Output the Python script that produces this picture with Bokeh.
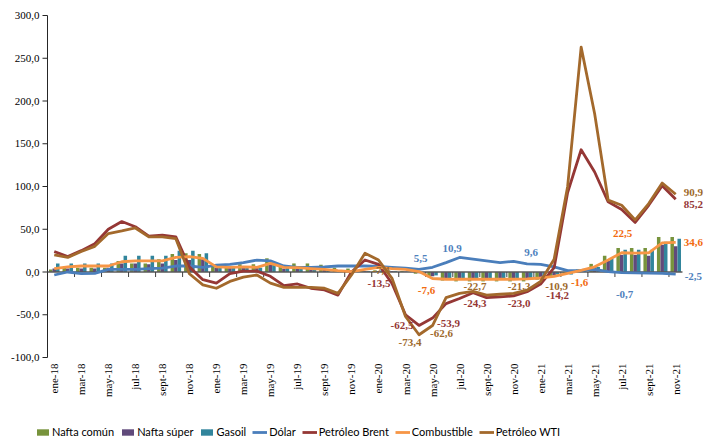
import numpy as np
from bokeh.plotting import figure
from bokeh.models import Range1d, Legend, LegendItem, ColumnDataSource, LabelSet
from bokeh.embed import file_html
from bokeh.resources import INLINE

meses = ["ene", "feb", "mar", "abr", "may", "jun", "jul", "ago", "sept", "oct", "nov", "dic"]
anios = ["18", "19", "20", "21"]
months = [f"{m}-{a}" for a in anios for m in meses][:47]

nafta_comun = [3, 5, 5, 5, 5, 13, 10, 10, 15, 21, 22, 21,
               7, 7, 9, 9, 16, 9, 10, 10, 8.5, 5, 4, 3,
               2, 2, 1, -2, -6, -10, -11, -11, -11, -11, -11, -11,
               -9, -5, -1, 3, 9.5, 19, 28, 28, 28, 41, 41]
nafta_super = [4, 4, 4, 4, 5, 10, 10, 9, 10, 14, 14, 15,
               5, 5, 5, 5, 9, 4, 4, 4, 3, 2, 2, 1,
               1, 1, 0.5, -1.5, -5, -8, -9, -9, -9, -9, -9, -9,
               -8, -4, -1, 2, 7, 13, 20, 20, 19, 32, 30]
gasoil = [10, 10, 10, 10, 10, 19, 19, 19, 19, 25, 25, 22,
          5, 5, 5, 5, 11, 5, 4, 4, 3, 2, 2, 1,
          2, 1, 0.5, -2, -4, -8, -9, -9, -9, -9, -9, -8,
          -6, -3, -3, 1, 6, 16, 26, 26, 26, 35.5, 39]
dolar = [-3.5, 0, -2, -1.5, 3, 3, 3, 4, 4.5, 7, 7, 5.5,
         8, 9, 11, 14, 13, 7, 5.5, 5.5, 6, 7, 7, 7,
         6.5, 5.5, 4.5, 3, 5.5, 10.9, 17, 15, 13, 11, 12.5, 9.6,
         9, 6, 1.5, 2, 3, 0.4, -0.7, -1, -1.2, -1.6, -2.5]
brent = [24, 18, 25, 33, 50, 59, 53, 42, 43, 41, 6, -9,
         -13, -2, 1, 1, -5, -16, -14, -19, -21, -27, 0, 14,
         9, -13.5, -50, -62.5, -53.9, -37, -31, -24.3, -30, -29, -28, -23.0,
         -14.2, 5, 93, 143, 117, 82, 73, 58, 78, 101, 85.2]
combustible = [4, 6, 7, 7, 7, 12, 13, 13, 13, 17, 18, 16,
               6, 5.5, 6, 5.5, 10, 5.5, 5, 4, 3, 1.5, 0.5, 3,
               5.5, 4, 3, 0.5, -7.6, -8.5, -8.5, -8.5, -8.5, -8.5, -8.5, -8,
               -7, -5, -1.6, 2, 6, 14, 22.5, 22, 22.5, 34, 34.6]
wti = [20, 17, 24, 30, 45, 48, 51.5, 41, 41, 39, -2, -15,
       -19, -11, -6, -3.5, -13, -18, -18, -18, -19, -25, -3.5, 22,
       14, -7.4, -52, -73.4, -62.6, -30, -25, -22.7, -27, -26, -25, -21.3,
       -10.9, 15, 100, 263, 185, 84, 78, 61, 80, 104, 90.9]

y_ticks = [-100, -50, 0, 50, 100, 150, 200, 250, 300]

# months whose value is written next to the line
label_months = {
    "Dólar": [28, 29, 35, 42, 46],
    "Petróleo Brent": [25, 27, 28, 31, 35, 36, 46],
    "Combustible": [28, 38, 42, 46],
    "Petróleo WTI": [25, 27, 28, 31, 35, 36, 46],
}
# pixel offsets of those labels (dx right, dy down)
label_offsets = {
    "Dólar": [(-12, -9), (6, -14), (4, -11), (3, 22), (9, 2)],
    "Petróleo Brent": [(-13, 0), (-17, 0), (16, 5), (2, 11), (-8, 12), (17, 11), (8, 5)],
    "Combustible": [(-6, 12), (12, 9), (1, -19), (8, 0)],
    "Petróleo WTI": [(-11, -8), (-9, 8), (9, 8), (2, -5), (-8, -4), (16, 5), (8, -2)],
}

n = len(months)
idx = np.arange(n)
FONT = "Lato"

def fmt(v):
    return f"{v:.1f}".replace(".", ",")

# geometry of the plotting area inside the page (pixels)
W, H = 708, 440
AX_LEFT, AX_TOP, AX_BOTTOM = 47, 15, 357
px_x = 13.51
px_y = (AX_BOTTOM - AX_TOP) / (y_ticks[-1] - y_ticks[0])
x0 = -0.5 - AX_LEFT / px_x
x1 = -0.5 + (W - AX_LEFT) / px_x
y1 = y_ticks[-1] + AX_TOP / px_y
y0 = y_ticks[0] - (H - AX_BOTTOM) / px_y

p = figure(width=W, height=H, x_range=Range1d(x0, x1), y_range=Range1d(y0, y1),
           x_axis_type=None, y_axis_type=None,
           output_backend="svg", toolbar_location=None,
           min_border_left=0, min_border_right=0, min_border_top=0, min_border_bottom=0)
p.xgrid.visible = False
p.ygrid.visible = False
p.outline_line_color = None
p.background_fill_color = "white"
p.border_fill_color = "white"

ax_x = -0.5

# y axis: line, ticks, labels
p.segment(x0=[ax_x], y0=[y_ticks[0]], x1=[ax_x], y1=[y_ticks[-1]], line_color="#262626", line_width=1)
yt = np.array(y_ticks, dtype=float)
p.segment(x0=np.full_like(yt, ax_x), y0=yt, x1=np.full_like(yt, ax_x - 5 / px_x), y1=yt,
          line_color="#262626", line_width=1)
ysrc = ColumnDataSource(dict(x=np.full_like(yt, ax_x), y=yt, text=[fmt(t) for t in y_ticks]))
p.add_layout(LabelSet(x="x", y="y", text="text", source=ysrc, x_offset=-8, y_offset=0,
                      text_align="right", text_baseline="middle", text_font=FONT,
                      text_font_size="11px", text_color="#000000"))

# x axis labels (every other month, vertical)
ev = list(range(0, n, 2))
xsrc = ColumnDataSource(dict(x=ev, y=[y_ticks[0]] * len(ev), text=[months[i] for i in ev]))
p.add_layout(LabelSet(x="x", y="y", text="text", source=xsrc, x_offset=0, y_offset=-6,
                      angle=np.pi / 2, text_align="right", text_baseline="middle",
                      text_font=FONT, text_font_size="11px", text_color="#000000"))

# bars
w = 0.26
bar_specs = [("Nafta común", nafta_comun, "#77933C", -w),
             ("Nafta súper", nafta_super, "#604A7B", 0.0),
             ("Gasoil", gasoil, "#31859C", w)]
bar_renderers = {}
for name, vals, col, off in bar_specs:
    r = p.vbar(x=idx + off, top=vals, bottom=0, width=w, fill_color=col, line_color=None)
    bar_renderers[name] = r

# zero axis line with tick marks
p.segment(x0=[ax_x], y0=[0], x1=[n - 0.5], y1=[0], line_color="#595959", line_width=1.5)
tick_x = np.arange(1.5, n - 1, 2)
p.segment(x0=tick_x, y0=np.zeros_like(tick_x), x1=tick_x, y1=np.full_like(tick_x, -5 / px_y),
          line_color="#404040", line_width=1)

# lines
line_specs = [("Dólar", dolar, "#4A7EBB", "#4F81BD"),
              ("Petróleo Brent", brent, "#953735", "#953735"),
              ("Combustible", combustible, "#F79646", "#F26B0F"),
              ("Petróleo WTI", wti, "#A3692C", "#9E6A2C")]
line_renderers = {}
for name, vals, col, lcol in line_specs:
    r = p.line(x=idx, y=vals, line_color=col, line_width=2.8, line_join="round")
    line_renderers[name] = r

# value labels
for name, vals, col, lcol in line_specs:
    for align in ("center", "left"):
        xs, ys, ts, xo, yo = [], [], [], [], []
        for i, (dx, dy) in zip(label_months[name], label_offsets[name]):
            a = "left" if i == n - 1 else "center"
            if a != align:
                continue
            xs.append(i); ys.append(vals[i]); ts.append(fmt(vals[i]))
            xo.append(dx); yo.append(-dy)
        if not xs:
            continue
        src = ColumnDataSource(dict(x=xs, y=ys, text=ts, xo=xo, yo=yo))
        ls = LabelSet(x="x", y="y", text="text", x_offset="xo", y_offset="yo", source=src,
                      text_align=align, text_baseline="middle", text_font=FONT,
                      text_font_size="11px", text_font_style="bold", text_color=lcol)
        p.add_layout(ls)

# legend
items = [LegendItem(label=nm, renderers=[bar_renderers[nm]]) for nm, _, _, _ in bar_specs]
items += [LegendItem(label=nm, renderers=[line_renderers[nm]]) for nm, _, _, _ in line_specs]
legend = Legend(items=items, orientation="horizontal", location=(35, 2),
                glyph_width=15, glyph_height=8, label_height=12, label_standoff=2,
                spacing=6, padding=0, margin=0, border_line_color=None,
                background_fill_alpha=0, label_text_font=FONT, label_text_font_size="11px",
                label_text_color="#000000")
p.add_layout(legend)

open("out.html", "w").write(file_html(p, INLINE))
